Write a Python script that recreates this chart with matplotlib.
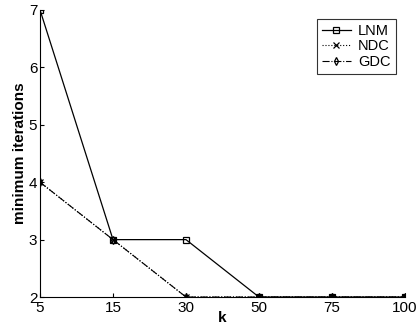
import matplotlib

matplotlib.use("Agg")
import matplotlib.pyplot as plt
import numpy as np

plt.rcParams["font.family"] = ["Liberation Sans", "DejaVu Sans"]

k_labels = ["5", "15", "30", "50", "75", "100"]
lnm = [7, 3, 3, 2, 2, 2]
ndc = [4, 3, 2, 2, 2, 2]
gdc = [4, 3, 2, 2, 2, 2]

x = np.arange(len(k_labels))

fig = plt.figure(figsize=(4.17, 3.33), dpi=100)
ax = fig.add_axes([0.096, 0.108, 0.875, 0.862])

ax.plot(x, lnm, color="black", lw=0.9, ls="-", marker="s", ms=4,
        mfc="none", mew=0.9, label="LNM")
ax.plot(x, ndc, color="black", lw=0.8, ls=":", marker="x", ms=4,
        mew=0.9, label="NDC")
ax.plot(x, gdc, color="black", lw=0.8, ls="-.", marker="d", ms=4,
        mfc="none", mew=0.9, label="GDC")

ax.set_xlim(x[0], x[-1])
ax.set_ylim(2, 7)
ax.set_xticks(x)
ax.set_xticklabels(k_labels)
ax.set_yticks(range(2, 8))
ax.tick_params(direction="in", length=3, labelsize=11)
ax.tick_params(axis="x", pad=3)
ax.tick_params(axis="y", pad=2)
ax.spines["top"].set_visible(False)
ax.spines["right"].set_visible(False)
ax.set_xlabel("k", fontsize=11, fontweight="bold", labelpad=-3)
ax.set_ylabel("minimum iterations", fontsize=11, fontweight="bold", labelpad=1)

leg = ax.legend(loc="upper right", bbox_to_anchor=(0.995, 0.995), fontsize=10.5,
                frameon=True, fancybox=False, edgecolor="black",
                handlelength=2.0, borderpad=0.35, labelspacing=0.1,
                handletextpad=0.5)
leg.get_frame().set_linewidth(0.8)

fig.savefig("out.png", dpi=100)
